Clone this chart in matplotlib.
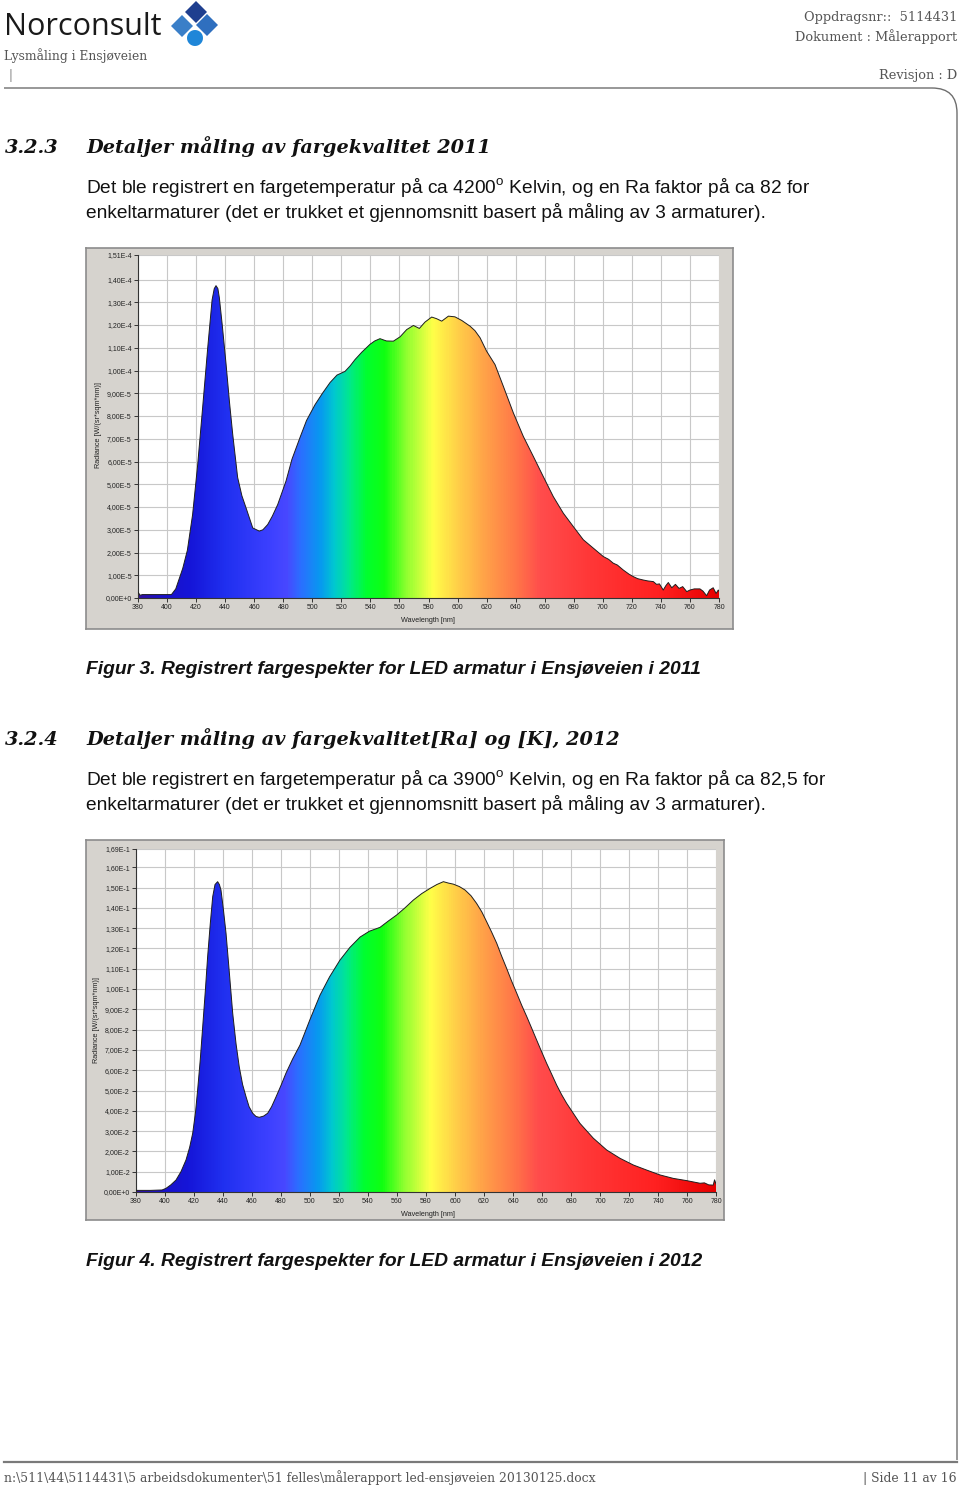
import numpy as np
import matplotlib
matplotlib.use("Agg")
import matplotlib.pyplot as plt
from matplotlib.colors import LinearSegmentedColormap, Normalize
from matplotlib.patches import Polygon, PathPatch
from matplotlib.path import Path
from matplotlib.lines import Line2D

plt.rcParams["mathtext.fontset"] = "custom"
plt.rcParams["mathtext.rm"] = "Liberation Sans"

W, H = 960, 1491

# ---- data ----
wl_2011 = [380, 381.5, 383, 395, 403, 406, 410.8, 414, 417.6, 421.1, 424.5, 428, 431, 432.5,
           433.7, 435, 436, 438, 440.6, 443, 445.2, 448.6, 451.5, 454.4, 459, 463.5, 466,
           469.3, 472.5, 476.2, 481.9, 486, 491.5, 496, 501.9, 507, 512.2, 517, 522.5, 526,
           529.4, 534, 539.7, 543, 546.6, 551, 555.8, 560.4, 565, 569.6, 573.7, 577.6, 582.2,
           585.5, 589.1, 593.7, 598.2, 602.9, 608.6, 612, 615.5, 620, 625.8, 631.5, 638.4,
           645.3, 652.2, 659, 665.9, 672.8, 679.7, 686.6, 693.5, 700.4, 704, 707.2, 710, 714.1,
           718, 721, 724, 727.9, 731, 734.8, 737, 739, 741.6, 743.5, 745.1, 747.5, 750, 752.5,
           755, 757.8, 760, 763, 766.9, 769, 771.5, 773.5, 776, 778, 779.5, 780]
rad_2011 = [0.25, 0.12, 0.15, 0.15, 0.15, 0.4, 1.3, 2.1, 3.67, 5.87, 8.37, 11.0, 13.1, 13.6,
            13.73, 13.6, 13.2, 12.0, 10.3, 8.6, 7.2, 5.3, 4.5, 3.96, 3.08, 2.94, 3.0,
            3.23, 3.6, 4.11, 5.14, 6.1, 7.05, 7.8, 8.5, 9.0, 9.47, 9.8, 9.96, 10.2,
            10.48, 10.8, 11.15, 11.3, 11.4, 11.3, 11.29, 11.48, 11.8, 11.98, 11.85, 12.13, 12.35,
            12.28, 12.17, 12.39, 12.36, 12.2, 11.95, 11.75, 11.44, 10.85, 10.26, 9.31, 8.14,
            7.1, 6.22, 5.34, 4.46, 3.73, 3.14, 2.56, 2.19, 1.82, 1.7, 1.53, 1.45, 1.23,
            1.05, 0.94, 0.85, 0.79, 0.75, 0.72, 0.6, 0.62, 0.35, 0.55, 0.68, 0.45, 0.6, 0.42,
            0.5, 0.28, 0.35, 0.4, 0.4, 0.3, 0.1, 0.35, 0.45, 0.2, 0.35, 0.3]  # x 1E-5

wl_2012 = [380, 390, 398, 400.7, 404, 407.6, 411, 414.5, 417, 419.1, 421, 422.5, 424.3, 426,
           427.8, 429.4, 431.2, 432.9, 434.5, 436.3, 437.5, 438.6, 440.3, 442.1, 444.5, 446.7,
           449, 451.2, 453.5, 455.9, 458, 460.5, 462.8, 465, 468, 470.8, 473.5, 476.6, 480,
           483.4, 488, 493.1, 500, 506.9, 513.5, 520.7, 527.5, 534.5, 541, 548.3, 554, 559.8,
           565.5, 571.2, 577, 582.8, 587.5, 592, 595.5, 598.8, 603, 606.9, 611, 614.9, 618.5,
           621.8, 625.3, 628.8, 632, 635.6, 639, 642.6, 646, 649.5, 653, 656.3, 659.8, 663.2,
           666.7, 670.1, 673.5, 677, 686.2, 695.4, 704.6, 713.8, 723, 732.2, 741.4, 750.6,
           759.8, 769, 772, 775, 778.1, 779, 780]
rad_2012 = [0.08, 0.08, 0.1, 0.18, 0.35, 0.59, 1.0, 1.58, 2.2, 2.89, 3.9, 5.02, 6.5, 8.14,
            9.9, 11.59, 13.2, 14.55, 15.15, 15.29, 15.15, 14.88, 13.9, 12.74, 10.7, 8.8,
            7.3, 6.17, 5.3, 4.69, 4.2, 3.88, 3.72, 3.68, 3.74, 3.88, 4.2, 4.69, 5.25,
            5.85, 6.55, 7.24, 8.5, 9.7, 10.6, 11.43, 12.05, 12.56, 12.85, 13.04, 13.35, 13.65,
            14.0, 14.38, 14.7, 14.96, 15.15, 15.29, 15.22, 15.17, 15.05, 14.88, 14.6, 14.22, 13.8,
            13.32, 12.8, 12.25, 11.65, 11.02, 10.4, 9.79, 9.2, 8.64, 8.05, 7.49, 6.9, 6.34,
            5.8, 5.27, 4.8, 4.37, 3.38, 2.65, 2.07, 1.66, 1.33, 1.08, 0.84, 0.67,
            0.56, 0.43, 0.45, 0.35, 0.34, 0.6, 0.4]  # x 1E-2

x_ticks = list(range(380, 781, 20))
y_ticks_2011 = [0, 1e-5, 2e-5, 3e-5, 4e-5, 5e-5, 6e-5, 7e-5, 8e-5, 9e-5, 1e-4, 1.1e-4,
                1.2e-4, 1.3e-4, 1.4e-4, 1.51e-4]
y_labels_2011 = ["0,00E+0", "1,00E-5", "2,00E-5", "3,00E-5", "4,00E-5", "5,00E-5", "6,00E-5",
                 "7,00E-5", "8,00E-5", "9,00E-5", "1,00E-4", "1,10E-4", "1,20E-4", "1,30E-4",
                 "1,40E-4", "1,51E-4"]
y_ticks_2012 = [0, 0.01, 0.02, 0.03, 0.04, 0.05, 0.06, 0.07, 0.08, 0.09, 0.10, 0.11, 0.12,
                0.13, 0.14, 0.15, 0.16, 0.169]
y_labels_2012 = ["0,00E+0", "1,00E-2", "2,00E-2", "3,00E-2", "4,00E-2", "5,00E-2", "6,00E-2",
                 "7,00E-2", "8,00E-2", "9,00E-2", "1,00E-1", "1,10E-1", "1,20E-1", "1,30E-1",
                 "1,40E-1", "1,50E-1", "1,60E-1", "1,69E-1"]

# colour of the fill along the wavelength axis
stops = [(380, "#3010a0"), (395, "#1a10c8"), (415, "#1515d8"), (440, "#2030f0"),
         (470, "#3c40ff"), (482, "#4848ff"), (492, "#2a70ff"), (505, "#0898f0"),
         (515, "#00c8d0"), (525, "#00e890"), (537, "#00ff30"), (550, "#10ff10"),
         (565, "#90ff30"), (583, "#ffff48"), (600, "#ffd048"), (620, "#ffa048"),
         (640, "#ff7848"), (658, "#ff4c4c"), (690, "#ff3838"), (740, "#ff2020"),
         (780, "#e80000")]
cmap = LinearSegmentedColormap.from_list(
    "spec", [((w - 380) / 400, c) for w, c in stops])


def frac(x0, y0, x1, y1):
    return [x0 / W, 1 - y1 / H, (x1 - x0) / W, (y1 - y0) / H]


def P(x, y):
    return (x / W, 1 - y / H)


fig = plt.figure(figsize=(W / 100, H / 100), dpi=100)
fig.patch.set_facecolor("white")


def txt(x, y, s, **kw):
    fig.text(x / W, 1 - y / H, s, **kw)


def spectrum(panel, plot, wl, rad, ymax, yticks, ylabels, ylab_pos, xlab_pos):
    axp = fig.add_axes(frac(*panel))
    axp.set_facecolor("#d6d3ce")
    axp.set_xticks([]); axp.set_yticks([])
    for s in axp.spines.values():
        s.set_color("#8c8c8c"); s.set_linewidth(1.2)

    ax = fig.add_axes(frac(*plot))
    ax.set_facecolor("white")
    im = ax.imshow(np.linspace(380, 780, 801)[None, :], extent=[380, 780, 0, ymax],
                   aspect="auto", cmap=cmap, norm=Normalize(380, 780), zorder=2,
                   interpolation="bilinear")
    verts = np.column_stack([np.r_[wl[0], wl, wl[-1]], np.r_[0, rad, 0]])
    clip = Polygon(verts, closed=True, facecolor="none", edgecolor="none",
                   transform=ax.transData)
    ax.add_patch(clip)
    im.set_clip_path(clip)
    ax.plot(wl, rad, color="#1e1e1e", lw=0.7, zorder=3)

    ax.set_xlim(380, 780); ax.set_ylim(0, ymax)
    ax.set_xticks(x_ticks)
    ax.set_xticklabels([str(t) for t in x_ticks])
    ax.set_yticks(yticks)
    ax.set_yticklabels(ylabels)
    ax.grid(color="#c8c8c8", lw=0.8)
    ax.set_axisbelow(True)
    ax.tick_params(direction="out", length=3, width=0.7, color="#333333",
                   labelsize=5, labelcolor="#222222", pad=1.5)
    for lab in ax.get_xticklabels() + ax.get_yticklabels():
        lab.set_family("Liberation Sans")
    for side in ["top", "right"]:
        ax.spines[side].set_visible(False)
    for side in ["left", "bottom"]:
        ax.spines[side].set_color("#333333"); ax.spines[side].set_linewidth(0.8)
    txt(*ylab_pos, "Radiance [W/(sr*sqm*nm)]", rotation=90, ha="center", va="center",
        fontsize=5.2, family="Liberation Sans", color="#222222")
    txt(*xlab_pos, "Wavelength [nm]", ha="center", va="center",
        fontsize=5.2, family="Liberation Sans", color="#222222")


spectrum((86, 248, 733, 629), (138, 254.5, 719, 598), wl_2011,
         np.array(rad_2011) * 1e-5, 1.51e-4, y_ticks_2011, y_labels_2011,
         (98, 425), (428, 620))
spectrum((86, 840, 724, 1220), (136, 849, 716, 1192), wl_2012,
         np.array(rad_2012) * 1e-2, 0.169, y_ticks_2012, y_labels_2012,
         (97, 1020), (428, 1215))

# ---- page header ----
txt(4, 35, "Norconsult", fontsize=22, family="Open Sans", color="#1a1a1a", va="baseline")
for (cx, cy, r, c) in [(196, 12, 11, "#1f3f8f"), (182, 26, 11, "#3a7fc8"),
                       (207, 25, 11, "#2f6fbf")]:
    fig.add_artist(Polygon([P(cx, cy - r), P(cx + r, cy), P(cx, cy + r), P(cx - r, cy)],
                           closed=True, facecolor=c, edgecolor="none",
                           transform=fig.transFigure))
fig.add_artist(Polygon([P(195 + 8 * np.cos(t), 38 + 8 * np.sin(t))
                        for t in np.linspace(0, 2 * np.pi, 40)],
                       closed=True, facecolor="#1f86d8", edgecolor="none",
                       transform=fig.transFigure))
txt(4, 60, "Lysmåling i Ensjøveien", fontsize=8.8, family="DejaVu Serif", color="#555555",
    va="baseline")
txt(9, 79, "|", fontsize=8.5, family="DejaVu Serif", color="#777777", va="baseline")
txt(957, 21, "Oppdragsnr::  5114431", fontsize=9.3, family="DejaVu Serif", color="#555555",
    ha="right", va="baseline")
txt(957, 41, "Dokument : Målerapport", fontsize=9.3, family="DejaVu Serif", color="#555555",
    ha="right", va="baseline")
txt(957, 79, "Revisjon : D", fontsize=9.3, family="DejaVu Serif", color="#555555",
    ha="right", va="baseline")

frame = Path([P(4, 88), P(932, 88), P(957, 88), P(957, 113), P(957, 1460)],
             [Path.MOVETO, Path.LINETO, Path.CURVE3, Path.CURVE3, Path.LINETO])
fig.add_artist(PathPatch(frame, facecolor="none", edgecolor="#6e6e6e", lw=1.0,
                         transform=fig.transFigure))
fig.add_artist(Line2D([4 / W, 957 / W], [1 - 1462 / H, 1 - 1462 / H], color="#7a7a7a",
                      lw=1.6, transform=fig.transFigure))

# ---- body text ----
head = dict(fontsize=13.9, family="DejaVu Serif", weight="bold", style="italic",
            color="#111111", va="baseline")
body = dict(fontsize=13.8, family="Liberation Sans", color="#111111", va="baseline")
capt = dict(fontsize=13.85, family="Liberation Sans", weight="bold", style="italic",
            color="#111111", va="baseline")

txt(5, 153, "3.2.3", **head)
txt(86, 153, "Detaljer måling av fargekvalitet 2011", **head)
txt(86, 193, r"Det ble registrert en fargetemperatur på ca 4200$^{\mathrm{o}}$ Kelvin, "
             "og en Ra faktor på ca 82 for", **body)
txt(86, 218, "enkeltarmaturer (det er trukket et gjennomsnitt basert på måling av 3 armaturer).",
    **body)
txt(86, 674, "Figur 3. Registrert fargespekter for LED armatur i Ensjøveien i 2011", **capt)

txt(5, 745, "3.2.4", **head)
txt(86, 745, "Detaljer måling av fargekvalitet[Ra] og [K], 2012", **head)
txt(86, 785, r"Det ble registrert en fargetemperatur på ca 3900$^{\mathrm{o}}$ Kelvin, "
             "og en Ra faktor på ca 82,5 for", **body)
txt(86, 810, "enkeltarmaturer (det er trukket et gjennomsnitt basert på måling av 3 armaturer).",
    **body)
txt(86, 1266, "Figur 4. Registrert fargespekter for LED armatur i Ensjøveien i 2012", **capt)

# ---- footer ----
txt(4, 1482, "n:\\511\\44\\5114431\\5 arbeidsdokumenter\\51 felles\\målerapport "
             "led-ensjøveien 20130125.docx", fontsize=8.9, family="DejaVu Serif",
    color="#555555", va="baseline")
txt(957, 1482, "| Side 11 av 16", fontsize=8.9, family="DejaVu Serif", color="#555555",
    ha="right", va="baseline")

fig.savefig("out.png", dpi=100)
